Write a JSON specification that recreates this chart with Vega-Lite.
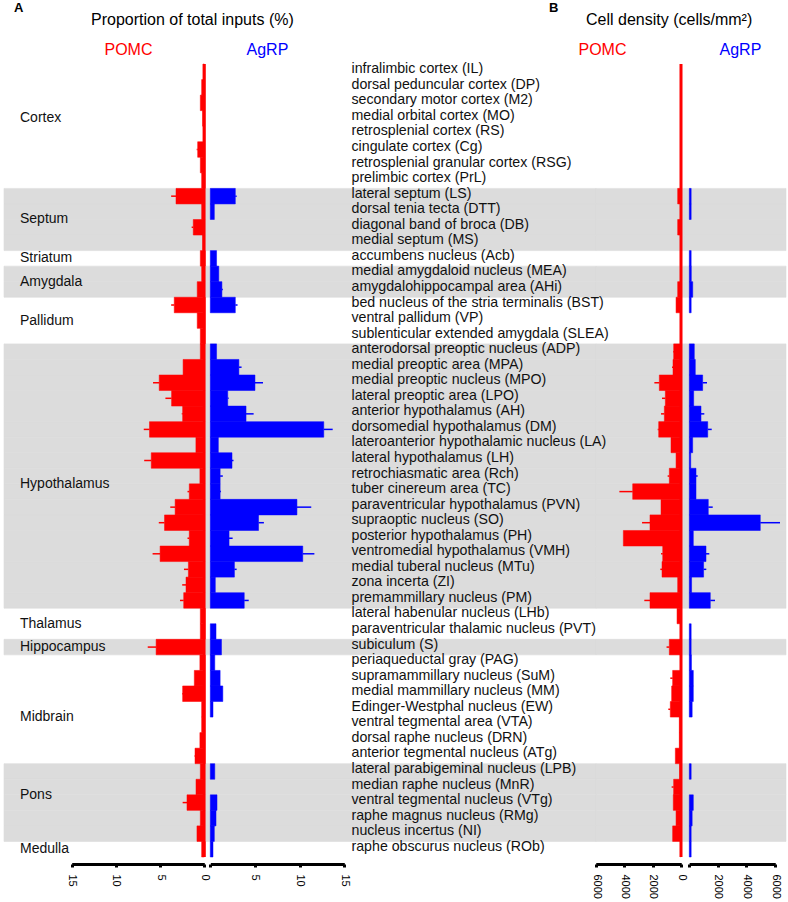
{
  "$schema": "https://vega.github.io/schema/vega-lite/v6.json",
  "padding": {"left": 3, "top": 2, "right": 0, "bottom": 0},
  "background": "white",
  "spacing": 0,
  "bounds": "flush",
  "config": {"font": "Liberation Sans", "view": {"stroke": null}, "axis": {"labelOverlap": false, "labelSeparation": 0}},
  "datasets": {
    "rows": [
      {"r": "infralimbic cortex (IL)", "g": "Cortex", "pA": 0.15, "pB": 0},
      {"r": "dorsal peduncular cortex (DP)", "g": "Cortex", "pA": 0.3, "pB": 0},
      {"r": "secondary motor cortex (M2)", "g": "Cortex", "pA": 0.45, "pB": 0},
      {"r": "medial orbital cortex (MO)", "g": "Cortex", "pA": 0.2, "pB": 0, "gl": "Cortex", "gp": "m"},
      {"r": "retrosplenial cortex (RS)", "g": "Cortex", "pA": 0.15, "pB": 0},
      {"r": "cingulate cortex (Cg)", "g": "Cortex", "pA": 0.75, "pAe": 0.86, "pB": 0},
      {"r": "retrosplenial granular cortex (RSG)", "g": "Cortex", "pA": 0.45, "pB": 0},
      {"r": "prelimbic cortex (PrL)", "g": "Cortex", "pA": 0.3, "pB": 0},
      {"r": "lateral septum (LS)", "g": "Septum", "pA": 3.2, "pAe": 3.75, "aA": 2.8, "aAe": 2.95, "pB": 235, "aB": 130},
      {"r": "dorsal tenia tecta (DTT)", "g": "Septum", "pA": 0.3, "aA": 0.45, "pB": 30, "aB": 130, "gl": "Septum", "gp": "e"},
      {"r": "diagonal band of broca (DB)", "g": "Septum", "pA": 1.25, "pAe": 1.43, "pB": 235},
      {"r": "medial septum (MS)", "g": "Septum", "pA": 0.2, "pB": 0},
      {"r": "accumbens nucleus (Acb)", "g": "Striatum", "pA": 0.45, "aA": 0.7, "pB": 30, "aB": 130, "gl": "Striatum", "gp": "m"},
      {"r": "medial amygdaloid nucleus (MEA)", "g": "Amygdala", "pA": 0.3, "aA": 0.95, "pB": 30, "aB": 140, "gl": "Amygdala", "gp": "e"},
      {"r": "amygdalohippocampal area (AHi)", "g": "Amygdala", "pA": 0.8, "aA": 1.3, "aAe": 1.4, "pB": 235, "aB": 240},
      {"r": "bed nucleus of the stria terminalis (BST)", "g": "Pallidum", "pA": 3.4, "pAe": 3.75, "aA": 2.8, "aAe": 3.05, "pB": 350, "aB": 130},
      {"r": "ventral pallidum (VP)", "g": "Pallidum", "pA": 0.8, "pB": 0, "gl": "Pallidum", "gp": "m"},
      {"r": "sublenticular extended amygdala (SLEA)", "g": "Pallidum", "pA": 0.45, "pB": 0},
      {"r": "anterodorsal preoptic nucleus (ADP)", "g": "Hypothalamus", "pA": 0.45, "aA": 0.7, "pB": 517, "pBe": 565, "aB": 350},
      {"r": "medial preoptic area (MPA)", "g": "Hypothalamus", "pA": 2.4, "aA": 3.2, "aAe": 3.5, "pB": 565, "pBe": 635, "aB": 420},
      {"r": "medial preoptic nucleus (MPO)", "g": "Hypothalamus", "pA": 5.1, "pAe": 5.8, "aA": 5.0, "aAe": 5.9, "pB": 1530, "pBe": 1880, "aB": 935, "aBe": 1240},
      {"r": "lateral preoptic area (LPO)", "g": "Hypothalamus", "pA": 3.7, "pAe": 4.4, "aA": 1.95, "aAe": 2.05, "pB": 1105, "pBe": 1340, "aB": 306},
      {"r": "anterior hypothalamus (AH)", "g": "Hypothalamus", "pA": 2.45, "pAe": 2.55, "aA": 4.0, "aAe": 4.85, "pB": 1175, "pBe": 1410, "aB": 820, "aBe": 1050},
      {"r": "dorsomedial hypothalamus (DM)", "g": "Hypothalamus", "pA": 6.2, "pAe": 6.85, "aA": 12.7, "aAe": 13.7, "pB": 1575, "pBe": 1645, "aB": 1290, "aBe": 1570},
      {"r": "lateroanterior hypothalamic nucleus (LA)", "g": "Hypothalamus", "pA": 0.95, "aA": 0.9, "pB": 705, "aB": 235},
      {"r": "lateral hypothalamus (LH)", "g": "Hypothalamus", "pA": 6.0, "pAe": 6.8, "aA": 2.43, "aAe": 2.6, "pB": 350, "aB": 100},
      {"r": "retrochiasmatic area (Rch)", "g": "Hypothalamus", "pA": 0.5, "aA": 1.1, "aAe": 1.4, "pB": 825, "pBe": 943, "aB": 470, "aBe": 585, "gl": "Hypothalamus", "gp": "e"},
      {"r": "tuber cinereum area (TC)", "g": "Hypothalamus", "pA": 1.7, "pAe": 1.9, "aA": 1.1, "aAe": 1.2, "pB": 3410, "pBe": 4350, "aB": 470},
      {"r": "paraventricular hypothalamus (PVN)", "g": "Hypothalamus", "pA": 3.3, "pAe": 3.85, "aA": 9.7, "aAe": 11.3, "pB": 1410, "aB": 1330, "aBe": 1640},
      {"r": "supraoptic nucleus (SO)", "g": "Hypothalamus", "pA": 4.5, "pAe": 5.15, "aA": 5.4, "aAe": 6.0, "pB": 2190, "pBe": 2750, "aB": 4970, "aBe": 6350},
      {"r": "posterior hypothalamus (PH)", "g": "Hypothalamus", "pA": 1.7, "pAe": 1.9, "aA": 2.1, "aAe": 2.5, "pB": 4070, "aB": 280},
      {"r": "ventromedial hypothalamus (VMH)", "g": "Hypothalamus", "pA": 5.0, "pAe": 5.85, "aA": 10.35, "aAe": 11.65, "pB": 1290, "pBe": 1410, "aB": 1170, "aBe": 1400},
      {"r": "medial tuberal nucleus (MTu)", "g": "Hypothalamus", "pA": 1.8, "pAe": 2.3, "aA": 2.7, "aAe": 2.95, "pB": 1340, "pBe": 1460, "aB": 1000, "aBe": 1190},
      {"r": "zona incerta (ZI)", "g": "Hypothalamus", "pA": 2.07, "pAe": 2.5, "aA": 0.56, "pB": 235, "aB": 160},
      {"r": "premammillary nucleus (PM)", "g": "Hypothalamus", "pA": 2.33, "pAe": 2.75, "aA": 3.8, "aAe": 4.3, "pB": 2190, "pBe": 2590, "aB": 1470, "aBe": 1800},
      {"r": "lateral habenular nucleus (LHb)", "g": "Thalamus", "pA": 0.45, "pB": 280, "gl": "Thalamus", "gp": "e"},
      {"r": "paraventricular thalamic nucleus (PVT)", "g": "Thalamus", "pA": 0.45, "aA": 0.64, "pB": 30, "aB": 130},
      {"r": "subiculum (S)", "g": "Hippocampus", "pA": 5.45, "pAe": 6.4, "aA": 1.25, "pB": 825, "pBe": 1020, "aB": 130, "gl": "Hippocampus", "gp": "m"},
      {"r": "periaqueductal gray (PAG)", "g": "Midbrain", "pA": 0.5, "aA": 0.5, "pB": 30, "aB": 150},
      {"r": "supramammillary nucleus (SuM)", "g": "Midbrain", "pA": 1.13, "aA": 1.1, "pB": 590, "pBe": 755, "aB": 280},
      {"r": "medial mammillary nucleus (MM)", "g": "Midbrain", "pA": 2.45, "pAe": 2.52, "aA": 1.4, "pB": 660, "aB": 280},
      {"r": "Edinger-Westphal nucleus (EW)", "g": "Midbrain", "pA": 0.3, "aA": 0.3, "pB": 755, "pBe": 896, "aB": 200, "gl": "Midbrain", "gp": "e"},
      {"r": "ventral tegmental area (VTA)", "g": "Midbrain", "pA": 0.3, "pB": 120},
      {"r": "dorsal raphe nucleus (DRN)", "g": "Midbrain", "pA": 0.5, "pB": 120},
      {"r": "anterior tegmental nucleus (ATg)", "g": "Midbrain", "pA": 1.05, "pAe": 1.1, "pB": 400},
      {"r": "lateral parabigeminal nucleus (LPB)", "g": "Pons", "pA": 0.45, "aA": 0.5, "pB": 100, "aB": 130},
      {"r": "median raphe nucleus (MnR)", "g": "Pons", "pA": 0.94, "pB": 520, "pBe": 660, "gl": "Pons", "gp": "e"},
      {"r": "ventral tegmental nucleus (VTg)", "g": "Pons", "pA": 1.96, "pAe": 2.45, "aA": 0.75, "pB": 545, "aB": 280},
      {"r": "raphe magnus nucleus (RMg)", "g": "Pons", "pA": 0.45, "aA": 0.64, "pB": 350, "aB": 200},
      {"r": "nucleus incertus (NI)", "g": "Pons", "pA": 0.83, "aA": 0.45, "pB": 590, "aB": 130},
      {"r": "raphe obscurus nucleus (ROb)", "g": "Medulla", "pA": 0.3, "aA": 0.3, "pB": 30, "aB": 130, "gl": "Medulla", "gp": "m"}
    ]
  },
  "data": {"name": "rows"},
  "hconcat": [
    {
      "width": 202,
      "height": 793,
      "title": {"text": "A", "anchor": "start", "frame": "group", "dx": 10, "fontSize": 13, "fontWeight": "bold", "offset": 25.7, "color": "#000"},
      "layer": [
        {
          "transform": [{"filter": {"field": "g", "oneOf": ["Septum", "Amygdala", "Hypothalamus", "Hippocampus", "Pons"]}}],
          "mark": {"type": "rect", "color": "#dcdcdc", "stroke": "#dcdcdc", "strokeWidth": 0.6},
          "encoding": {
            "y": {"field": "r", "type": "nominal",
              "scale": {"domain": ["infralimbic cortex (IL)","dorsal peduncular cortex (DP)","secondary motor cortex (M2)","medial orbital cortex (MO)","retrosplenial cortex (RS)","cingulate cortex (Cg)","retrosplenial granular cortex (RSG)","prelimbic cortex (PrL)","lateral septum (LS)","dorsal tenia tecta (DTT)","diagonal band of broca (DB)","medial septum (MS)","accumbens nucleus (Acb)","medial amygdaloid nucleus (MEA)","amygdalohippocampal area (AHi)","bed nucleus of the stria terminalis (BST)","ventral pallidum (VP)","sublenticular extended amygdala (SLEA)","anterodorsal preoptic nucleus (ADP)","medial preoptic area (MPA)","medial preoptic nucleus (MPO)","lateral preoptic area (LPO)","anterior hypothalamus (AH)","dorsomedial hypothalamus (DM)","lateroanterior hypothalamic nucleus (LA)","lateral hypothalamus (LH)","retrochiasmatic area (Rch)","tuber cinereum area (TC)","paraventricular hypothalamus (PVN)","supraoptic nucleus (SO)","posterior hypothalamus (PH)","ventromedial hypothalamus (VMH)","medial tuberal nucleus (MTu)","zona incerta (ZI)","premammillary nucleus (PM)","lateral habenular nucleus (LHb)","paraventricular thalamic nucleus (PVT)","subiculum (S)","periaqueductal gray (PAG)","supramammillary nucleus (SuM)","medial mammillary nucleus (MM)","Edinger-Westphal nucleus (EW)","ventral tegmental area (VTA)","dorsal raphe nucleus (DRN)","anterior tegmental nucleus (ATg)","lateral parabigeminal nucleus (LPB)","median raphe nucleus (MnR)","ventral tegmental nucleus (VTg)","raphe magnus nucleus (RMg)","nucleus incertus (NI)","raphe obscurus nucleus (ROb)"], "paddingInner": 0, "paddingOuter": 0},
              "axis": {"title": "POMC", "labels": false, "ticks": false, "domain": false, "grid": false, "titleAngle": 0, "titleX": 100, "titleY": -10, "titleAlign": "left", "titleBaseline": "alphabetic", "titleColor": "#ff0000", "titleFontSize": 16, "titleFontWeight": "normal", "zindex": 1}
            }
          }
        },
        {
          "transform": [{"filter": "datum.gp == 'm'"}],
          "mark": {"type": "text", "align": "left", "baseline": "middle", "fontSize": 14, "color": "#111"},
          "encoding": {
            "y": {"field": "r", "type": "nominal"},
            "x": {"datum": 20.85},
            "text": {"field": "gl"}
          }
        },
        {
          "transform": [{"filter": "datum.gp == 'e'"}],
          "mark": {"type": "text", "align": "left", "baseline": "middle", "fontSize": 14, "color": "#111"},
          "encoding": {
            "y": {"field": "r", "type": "nominal", "bandPosition": 1},
            "x": {"datum": 20.85},
            "text": {"field": "gl"}
          }
        },
        {
          "mark": {"type": "bar", "color": "#ff0000", "stroke": "#ff0000", "strokeWidth": 0.5},
          "encoding": {
            "y": {"field": "r", "type": "nominal"},
            "x": {"field": "pA", "type": "quantitative",
              "scale": {"domain": [0, 15], "range": [200.3, 67.7], "nice": false, "zero": false},
              "axis": {"values": [0, 5, 10, 15], "title": null, "grid": false, "offset": 7, "domainWidth": 3, "domainColor": "#000", "tickColor": "#000", "tickWidth": 3, "tickSize": 3, "labelAngle": 90, "labelAlign": "left", "labelBaseline": "middle", "labelPadding": 7, "labelFontSize": 11, "labelColor": "#000", "labelFlush": false, "labelOverlap": false, "format": "d"}
            }
          }
        },
        {
          "transform": [{"filter": "isValid(datum.pAe)"}],
          "mark": {"type": "rule", "color": "#ff0000", "strokeWidth": 1.5},
          "encoding": {
            "y": {"field": "r", "type": "nominal"},
            "x": {"field": "pA", "type": "quantitative"},
            "x2": {"field": "pAe"}
          }
        },
        {
          "data": {"values": [{}]},
          "mark": {"type": "rule", "color": "#ff0000", "strokeWidth": 3},
          "encoding": {"x": {"datum": 0}}
        }
      ]
    },
    {
      "width": 390,
      "height": 793,
      "title": {"text": "Proportion of total inputs (%)", "anchor": "start", "frame": "group", "dx": -115, "fontSize": 16, "fontWeight": "normal", "offset": 13.5, "color": "#000"},
      "layer": [
        {
          "transform": [{"filter": {"field": "g", "oneOf": ["Septum", "Amygdala", "Hypothalamus", "Hippocampus", "Pons"]}}],
          "mark": {"type": "rect", "color": "#dcdcdc", "stroke": "#dcdcdc", "strokeWidth": 0.6},
          "encoding": {
            "y": {"field": "r", "type": "nominal",
              "scale": {"domain": ["infralimbic cortex (IL)","dorsal peduncular cortex (DP)","secondary motor cortex (M2)","medial orbital cortex (MO)","retrosplenial cortex (RS)","cingulate cortex (Cg)","retrosplenial granular cortex (RSG)","prelimbic cortex (PrL)","lateral septum (LS)","dorsal tenia tecta (DTT)","diagonal band of broca (DB)","medial septum (MS)","accumbens nucleus (Acb)","medial amygdaloid nucleus (MEA)","amygdalohippocampal area (AHi)","bed nucleus of the stria terminalis (BST)","ventral pallidum (VP)","sublenticular extended amygdala (SLEA)","anterodorsal preoptic nucleus (ADP)","medial preoptic area (MPA)","medial preoptic nucleus (MPO)","lateral preoptic area (LPO)","anterior hypothalamus (AH)","dorsomedial hypothalamus (DM)","lateroanterior hypothalamic nucleus (LA)","lateral hypothalamus (LH)","retrochiasmatic area (Rch)","tuber cinereum area (TC)","paraventricular hypothalamus (PVN)","supraoptic nucleus (SO)","posterior hypothalamus (PH)","ventromedial hypothalamus (VMH)","medial tuberal nucleus (MTu)","zona incerta (ZI)","premammillary nucleus (PM)","lateral habenular nucleus (LHb)","paraventricular thalamic nucleus (PVT)","subiculum (S)","periaqueductal gray (PAG)","supramammillary nucleus (SuM)","medial mammillary nucleus (MM)","Edinger-Westphal nucleus (EW)","ventral tegmental area (VTA)","dorsal raphe nucleus (DRN)","anterior tegmental nucleus (ATg)","lateral parabigeminal nucleus (LPB)","median raphe nucleus (MnR)","ventral tegmental nucleus (VTg)","raphe magnus nucleus (RMg)","nucleus incertus (NI)","raphe obscurus nucleus (ROb)"], "paddingInner": 0, "paddingOuter": 0},
              "axis": {"title": "AgRP", "labels": false, "ticks": false, "domain": false, "grid": false, "titleAngle": 0, "titleX": 40, "titleY": -10, "titleAlign": "left", "titleBaseline": "alphabetic", "titleColor": "#0000ff", "titleFontSize": 16, "titleFontWeight": "normal", "zindex": 1}
            }
          }
        },
        {
          "mark": {"type": "bar", "color": "#0000ff", "stroke": "#0000ff", "strokeWidth": 0.5},
          "encoding": {
            "y": {"field": "r", "type": "nominal"},
            "x": {"field": "aA", "type": "quantitative",
              "scale": {"domain": [0, 15], "range": [4.3, 138.3], "nice": false, "zero": false},
              "axis": {"values": [0, 5, 10, 15], "labelExpr": "datum.value == 0 ? '' : datum.label", "title": null, "grid": false, "offset": 7, "domainWidth": 3, "domainColor": "#000", "tickColor": "#000", "tickWidth": 3, "tickSize": 3, "labelAngle": 90, "labelAlign": "left", "labelBaseline": "middle", "labelPadding": 7, "labelFontSize": 11, "labelColor": "#000", "labelFlush": false, "labelOverlap": false, "format": "d"}
            }
          }
        },
        {
          "transform": [{"filter": "isValid(datum.aAe)"}],
          "mark": {"type": "rule", "color": "#0000ff", "strokeWidth": 1.5},
          "encoding": {
            "y": {"field": "r", "type": "nominal"},
            "x": {"field": "aA", "type": "quantitative"},
            "x2": {"field": "aAe"}
          }
        }
      ]
    },
    {
      "width": 89,
      "height": 793,
      "title": {"text": "Cell density (cells/mm²)", "anchor": "start", "frame": "group", "dx": -10, "fontSize": 16, "fontWeight": "normal", "offset": 13.5, "color": "#000"},
      "resolve": {"axis": {"x": "independent"}},
      "layer": [
        {
          "transform": [{"filter": {"field": "g", "oneOf": ["Septum", "Amygdala", "Hypothalamus", "Hippocampus", "Pons"]}}],
          "mark": {"type": "rect", "color": "#dcdcdc", "stroke": "#dcdcdc", "strokeWidth": 0.6},
          "encoding": {
            "y": {"field": "r", "type": "nominal",
              "scale": {"domain": ["infralimbic cortex (IL)","dorsal peduncular cortex (DP)","secondary motor cortex (M2)","medial orbital cortex (MO)","retrosplenial cortex (RS)","cingulate cortex (Cg)","retrosplenial granular cortex (RSG)","prelimbic cortex (PrL)","lateral septum (LS)","dorsal tenia tecta (DTT)","diagonal band of broca (DB)","medial septum (MS)","accumbens nucleus (Acb)","medial amygdaloid nucleus (MEA)","amygdalohippocampal area (AHi)","bed nucleus of the stria terminalis (BST)","ventral pallidum (VP)","sublenticular extended amygdala (SLEA)","anterodorsal preoptic nucleus (ADP)","medial preoptic area (MPA)","medial preoptic nucleus (MPO)","lateral preoptic area (LPO)","anterior hypothalamus (AH)","dorsomedial hypothalamus (DM)","lateroanterior hypothalamic nucleus (LA)","lateral hypothalamus (LH)","retrochiasmatic area (Rch)","tuber cinereum area (TC)","paraventricular hypothalamus (PVN)","supraoptic nucleus (SO)","posterior hypothalamus (PH)","ventromedial hypothalamus (VMH)","medial tuberal nucleus (MTu)","zona incerta (ZI)","premammillary nucleus (PM)","lateral habenular nucleus (LHb)","paraventricular thalamic nucleus (PVT)","subiculum (S)","periaqueductal gray (PAG)","supramammillary nucleus (SuM)","medial mammillary nucleus (MM)","Edinger-Westphal nucleus (EW)","ventral tegmental area (VTA)","dorsal raphe nucleus (DRN)","anterior tegmental nucleus (ATg)","lateral parabigeminal nucleus (LPB)","median raphe nucleus (MnR)","ventral tegmental nucleus (VTg)","raphe magnus nucleus (RMg)","nucleus incertus (NI)","raphe obscurus nucleus (ROb)"], "paddingInner": 0, "paddingOuter": 0},
              "axis": {"title": "POMC", "labels": true, "ticks": false, "tickSize": 0, "domain": false, "grid": false, "labelAlign": "left", "labelBaseline": "middle", "labelPadding": 245, "labelFontSize": 14.2, "labelColor": "#111", "labelLimit": 0, "labelOffset": -2.5, "labelOverlap": false, "titleAngle": 0, "titleX": -18, "titleY": -10, "titleAlign": "left", "titleBaseline": "alphabetic", "titleColor": "#ff0000", "titleFontSize": 16, "titleFontWeight": "normal", "zindex": 1}
            }
          }
        },
        {
          "mark": {"type": "bar", "color": "#ff0000", "stroke": "#ff0000", "strokeWidth": 0.5},
          "encoding": {
            "y": {"field": "r", "type": "nominal"},
            "x": {"field": "pB", "type": "quantitative",
              "scale": {"domain": [0, 6000], "range": [85, 0], "nice": false, "zero": false},
              "axis": {"orient": "bottom", "values": [0, 4000], "title": null, "grid": false, "offset": 7, "domainWidth": 3, "domainColor": "#000", "tickColor": "#000", "tickWidth": 3, "tickSize": 3, "labelAngle": 90, "labelAlign": "left", "labelBaseline": "middle", "labelPadding": 7, "labelFontSize": 11, "labelColor": "#000", "labelFlush": false, "labelOverlap": false, "format": "d"}
            }
          }
        },
        {
          "transform": [{"filter": "isValid(datum.pBe)"}],
          "mark": {"type": "rule", "color": "#ff0000", "strokeWidth": 1.5},
          "encoding": {
            "y": {"field": "r", "type": "nominal"},
            "x": {"field": "pB", "type": "quantitative",
              "axis": {"orient": "bottom", "values": [2000, 6000], "title": null, "grid": false, "offset": 7, "domainWidth": 3, "domainColor": "#000", "tickColor": "#000", "tickWidth": 3, "tickSize": 3, "labelAngle": 90, "labelAlign": "left", "labelBaseline": "middle", "labelPadding": 7, "labelFontSize": 11, "labelColor": "#000", "labelFlush": false, "labelOverlap": false, "format": "d"}},
            "x2": {"field": "pBe"}
          }
        },
        {
          "data": {"values": [{}]},
          "mark": {"type": "rule", "color": "#ff0000", "strokeWidth": 3},
          "encoding": {"x": {"datum": 0, "axis": null}}
        }
      ]
    },
    {
      "width": 101,
      "height": 793,
      "title": {"text": "B", "anchor": "start", "frame": "group", "dx": -136, "fontSize": 13, "fontWeight": "bold", "offset": 25.7, "color": "#000"},
      "resolve": {"axis": {"x": "independent"}},
      "layer": [
        {
          "transform": [{"filter": {"field": "g", "oneOf": ["Septum", "Amygdala", "Hypothalamus", "Hippocampus", "Pons"]}}],
          "mark": {"type": "rect", "color": "#dcdcdc", "stroke": "#dcdcdc", "strokeWidth": 0.6},
          "encoding": {
            "y": {"field": "r", "type": "nominal",
              "scale": {"domain": ["infralimbic cortex (IL)","dorsal peduncular cortex (DP)","secondary motor cortex (M2)","medial orbital cortex (MO)","retrosplenial cortex (RS)","cingulate cortex (Cg)","retrosplenial granular cortex (RSG)","prelimbic cortex (PrL)","lateral septum (LS)","dorsal tenia tecta (DTT)","diagonal band of broca (DB)","medial septum (MS)","accumbens nucleus (Acb)","medial amygdaloid nucleus (MEA)","amygdalohippocampal area (AHi)","bed nucleus of the stria terminalis (BST)","ventral pallidum (VP)","sublenticular extended amygdala (SLEA)","anterodorsal preoptic nucleus (ADP)","medial preoptic area (MPA)","medial preoptic nucleus (MPO)","lateral preoptic area (LPO)","anterior hypothalamus (AH)","dorsomedial hypothalamus (DM)","lateroanterior hypothalamic nucleus (LA)","lateral hypothalamus (LH)","retrochiasmatic area (Rch)","tuber cinereum area (TC)","paraventricular hypothalamus (PVN)","supraoptic nucleus (SO)","posterior hypothalamus (PH)","ventromedial hypothalamus (VMH)","medial tuberal nucleus (MTu)","zona incerta (ZI)","premammillary nucleus (PM)","lateral habenular nucleus (LHb)","paraventricular thalamic nucleus (PVT)","subiculum (S)","periaqueductal gray (PAG)","supramammillary nucleus (SuM)","medial mammillary nucleus (MM)","Edinger-Westphal nucleus (EW)","ventral tegmental area (VTA)","dorsal raphe nucleus (DRN)","anterior tegmental nucleus (ATg)","lateral parabigeminal nucleus (LPB)","median raphe nucleus (MnR)","ventral tegmental nucleus (VTg)","raphe magnus nucleus (RMg)","nucleus incertus (NI)","raphe obscurus nucleus (ROb)"], "paddingInner": 0, "paddingOuter": 0},
              "axis": {"title": "AgRP", "labels": false, "ticks": false, "domain": false, "grid": false, "titleAngle": 0, "titleX": 34, "titleY": -10, "titleAlign": "left", "titleBaseline": "alphabetic", "titleColor": "#0000ff", "titleFontSize": 16, "titleFontWeight": "normal", "zindex": 1}
            }
          }
        },
        {
          "mark": {"type": "bar", "color": "#0000ff", "stroke": "#0000ff", "strokeWidth": 0.5},
          "encoding": {
            "y": {"field": "r", "type": "nominal"},
            "x": {"field": "aB", "type": "quantitative",
              "scale": {"domain": [0, 6000], "range": [4.3, 90], "nice": false, "zero": false},
              "axis": {"orient": "bottom", "values": [0, 4000], "labelExpr": "datum.value == 0 ? '' : datum.label", "title": null, "grid": false, "offset": 7, "domainWidth": 3, "domainColor": "#000", "tickColor": "#000", "tickWidth": 3, "tickSize": 3, "labelAngle": 90, "labelAlign": "left", "labelBaseline": "middle", "labelPadding": 7, "labelFontSize": 11, "labelColor": "#000", "labelFlush": false, "labelOverlap": false, "format": "d"}
            }
          }
        },
        {
          "transform": [{"filter": "isValid(datum.aBe)"}],
          "mark": {"type": "rule", "color": "#0000ff", "strokeWidth": 1.5},
          "encoding": {
            "y": {"field": "r", "type": "nominal"},
            "x": {"field": "aB", "type": "quantitative",
              "axis": {"orient": "bottom", "values": [2000, 6000], "title": null, "grid": false, "offset": 7, "domainWidth": 3, "domainColor": "#000", "tickColor": "#000", "tickWidth": 3, "tickSize": 3, "labelAngle": 90, "labelAlign": "left", "labelBaseline": "middle", "labelPadding": 7, "labelFontSize": 11, "labelColor": "#000", "labelFlush": false, "labelOverlap": false, "format": "d"}},
            "x2": {"field": "aBe"}
          }
        }
      ]
    }
  ]
}
